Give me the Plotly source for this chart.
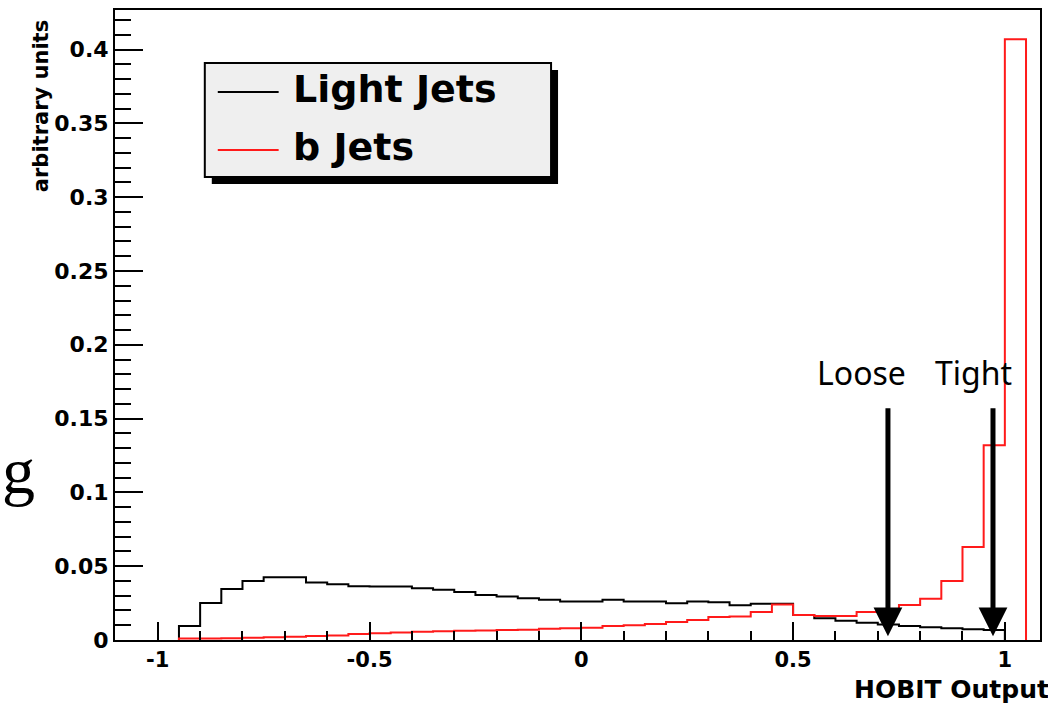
import numpy as np
import plotly.graph_objects as go

# HOBIT output distributions, bin width 0.05, first bin starts at -0.95
bin_start = -0.95
bin_width = 0.05
light_jets = [0.0095, 0.025, 0.0345, 0.040, 0.0425, 0.0425, 0.039, 0.0378, 0.0364, 0.0363,
              0.0362, 0.035, 0.034, 0.0325, 0.0305, 0.0294, 0.0282, 0.0273, 0.026, 0.026,
              0.0272, 0.026, 0.026, 0.0249, 0.026, 0.0255, 0.0235, 0.0245, 0.0245, 0.017,
              0.0147, 0.0131, 0.0117, 0.0105, 0.0095, 0.0087, 0.008, 0.0073, 0.0068]
b_jets = [0.001, 0.001, 0.0012, 0.0015, 0.0018, 0.0022, 0.0027, 0.003, 0.004, 0.0045,
          0.005, 0.0056, 0.006, 0.0063, 0.0065, 0.0068, 0.007, 0.0077, 0.008, 0.0083,
          0.0095, 0.010, 0.0108, 0.0122, 0.0135, 0.0155, 0.016, 0.019, 0.024, 0.017,
          0.0163, 0.0163, 0.019, 0.0205, 0.0237, 0.028, 0.040, 0.063, 0.132, 0.407]

# working points
cut_names = ["Loose", "Tight"]
cut_values = [0.724, 0.972]

x_ticks = [-1, -0.5, 0, 0.5, 1]
x_tick_text = ["-1", "-0.5", "0", "0.5", "1"]
y_ticks = [0, 0.05, 0.1, 0.15, 0.2, 0.25, 0.3, 0.35, 0.4]
y_tick_text = ["0", "0.05", "0.1", "0.15", "0.2", "0.25", "0.3", "0.35", "0.4"]

W, H = 1048, 705
L, R, T, B = 115, 1042, 10, 640  # plot frame in pixels


def px(p):
    return (p - L) / (R - L)


def py(p):
    return (B - p) / (B - T)


def step_outline(values):
    """Histogram outline: rise from zero at the first edge, drop to zero at the last."""
    n = len(values)
    edges = np.round(bin_start + bin_width * np.arange(n + 1), 4)
    xs = [edges[0]] + list(edges) + [edges[-1]]
    ys = [0.0] + list(values) + [values[-1], 0.0]
    return xs, ys


fig = go.Figure()
for vals, color in [(light_jets, "black"), (b_jets, "#ff1a1a")]:
    xs, ys = step_outline(vals)
    fig.add_trace(go.Scatter(x=xs, y=ys, mode="lines", line=dict(color=color, width=2, shape="hv"),
                             showlegend=False, hoverinfo="skip"))

bold = dict(family="DejaVu Sans", color="black", weight="bold")

fig.update_layout(
    width=W, height=H,
    margin=dict(l=L, r=W - R, t=T, b=H - B),
    plot_bgcolor="white", paper_bgcolor="white",
    xaxis=dict(range=[-1.101, 1.083], showgrid=False, zeroline=False,
               showline=True, linecolor="black", linewidth=2, mirror=True,
               ticks="inside", ticklen=18, tickwidth=2, tickcolor="black",
               tickvals=x_ticks, ticktext=x_tick_text, tickfont=dict(size=21, **bold),
               minor=dict(dtick=0.1, tick0=0, ticks="inside", ticklen=9, tickwidth=2,
                          tickcolor="black", showgrid=False)),
    yaxis=dict(range=[0, 0.4268], showgrid=False, zeroline=False,
               showline=True, linecolor="black", linewidth=2, mirror=True,
               ticks="inside", ticklen=28, tickwidth=2, tickcolor="black",
               tickvals=y_ticks, ticktext=y_tick_text, tickfont=dict(size=22, **bold),
               minor=dict(dtick=0.01, tick0=0, ticks="inside", ticklen=16, tickwidth=2,
                          tickcolor="black", showgrid=False)),
)

shapes = []
annotations = []

# legend box with drop shadow
shapes.append(dict(type="rect", xref="paper", yref="paper", layer="above",
                   x0=px(212), x1=px(559), y0=py(184), y1=py(70),
                   fillcolor="black", line=dict(width=0)))
shapes.append(dict(type="rect", xref="paper", yref="paper", layer="above",
                   x0=px(205), x1=px(552), y0=py(177), y1=py(63),
                   fillcolor="#efefef", line=dict(color="black", width=2)))
legend_rows = [("Light Jets", "black", 92), ("b Jets", "#ff1a1a", 150)]
for label, color, yc in legend_rows:
    shapes.append(dict(type="line", xref="paper", yref="paper", layer="above",
                       x0=px(218), x1=px(279), y0=py(yc), y1=py(yc),
                       line=dict(color=color, width=2)))
    annotations.append(dict(text=label, xref="paper", yref="paper", x=px(291), y=py(yc - 3),
                            xanchor="left", yanchor="middle", showarrow=False,
                            font=dict(size=38, **bold)))

# cut arrows and labels
label_px = {"Loose": 863, "Tight": 975}
for name, val in zip(cut_names, cut_values):
    annotations.append(dict(x=val, y=0.0025, xref="x", yref="y", ax=val, ay=0.158,
                            axref="x", ayref="y", text="", showarrow=True,
                            arrowhead=2, arrowsize=1.15, arrowwidth=5, arrowcolor="black"))
    annotations.append(dict(text=name, xref="paper", yref="paper", x=px(label_px[name]), y=py(372),
                            xanchor="center", yanchor="middle", showarrow=False,
                            font=dict(family="Noto Sans", size=32, color="black")))

# axis titles
annotations.append(dict(text="arbitrary units", xref="paper", yref="paper", x=px(41), y=py(106),
                        xanchor="center", yanchor="middle", showarrow=False, textangle=-90,
                        font=dict(size=21, **bold)))
annotations.append(dict(text="HOBIT Output", xref="paper", yref="paper", x=px(854), y=py(689),
                        xanchor="left", yanchor="middle", showarrow=False,
                        font=dict(size=25, **bold)))
annotations.append(dict(text="g", xref="paper", yref="paper", x=px(18), y=py(470),
                        xanchor="center", yanchor="middle", showarrow=False,
                        font=dict(family="Liberation Serif", size=66, color="black")))

fig.update_layout(shapes=shapes, annotations=annotations)
fig.write_html("out.html")
